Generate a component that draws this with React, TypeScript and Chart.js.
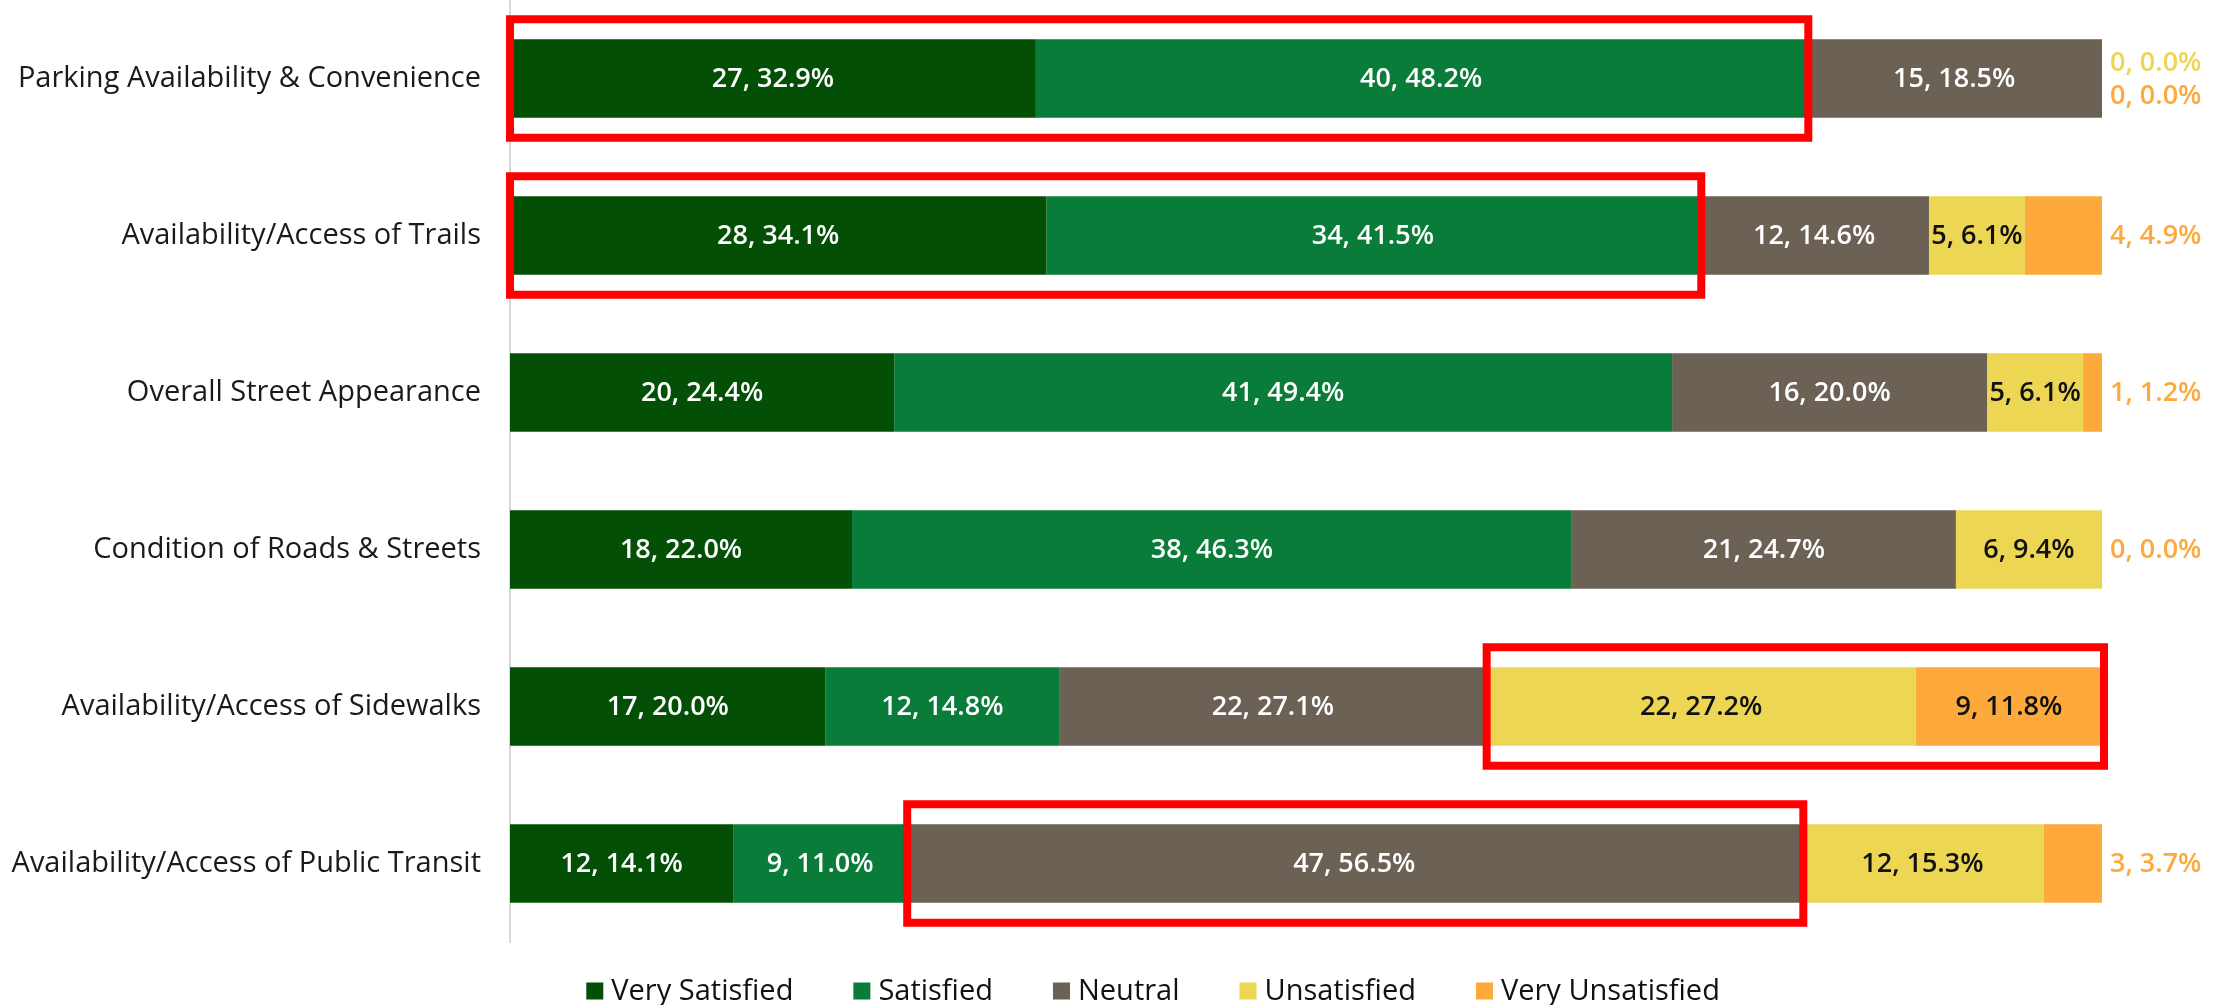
import React, { useEffect, useRef } from "react";
import { Chart, registerables } from "chart.js";

Chart.register(...registerables);

const categories = [
  "Parking Availability & Convenience",
  "Availability/Access of Trails",
  "Overall Street Appearance",
  "Condition of Roads & Streets",
  "Availability/Access of Sidewalks",
  "Availability/Access of Public Transit",
];

const seriesNames = ["Very Satisfied", "Satisfied", "Neutral", "Unsatisfied", "Very Unsatisfied"];
const seriesColors = ["#034f05", "#0a7c39", "#6b6155", "#ecd654", "#fda93b"];
const labelColors = ["#ffffff", "#ffffff", "#ffffff", "#111111", "#111111"];

const verySatisfiedCounts = [27, 28, 20, 18, 17, 12];
const verySatisfiedPct = [32.9, 34.1, 24.4, 22.0, 20.0, 14.1];
const satisfiedCounts = [40, 34, 41, 38, 12, 9];
const satisfiedPct = [48.2, 41.5, 49.4, 46.3, 14.8, 11.0];
const neutralCounts = [15, 12, 16, 21, 22, 47];
const neutralPct = [18.5, 14.6, 20.0, 24.7, 27.1, 56.5];
const unsatisfiedCounts = [0, 5, 5, 6, 22, 12];
const unsatisfiedPct = [0.0, 6.1, 6.1, 9.4, 27.2, 15.3];
const veryUnsatisfiedCounts = [0, 4, 1, 0, 9, 3];
const veryUnsatisfiedPct = [0.0, 4.9, 1.2, 0.0, 11.8, 3.7];

// highlighted (red box) regions: row index, first series, last series
const highlightRows = [0, 1, 4, 5];
const highlightFrom = [0, 0, 3, 2];
const highlightTo = [1, 1, 4, 2];

const countSeries = [verySatisfiedCounts, satisfiedCounts, neutralCounts, unsatisfiedCounts, veryUnsatisfiedCounts];
const pctSeries = [verySatisfiedPct, satisfiedPct, neutralPct, unsatisfiedPct, veryUnsatisfiedPct];

const FONT = "'Open Sans', 'DejaVu Sans', sans-serif";

const labelPlugin = {
  id: "segLabels",
  afterDatasetsDraw(chart: any) {
    const ctx = chart.ctx;
    const area = chart.chartArea;
    ctx.save();
    // red highlight boxes
    ctx.strokeStyle = "#ff0000";
    ctx.lineWidth = 8;
    highlightRows.forEach((row, k) => {
      const a = chart.getDatasetMeta(highlightFrom[k]).data[row].getProps(["x", "y", "base", "height"], true);
      const b = chart.getDatasetMeta(highlightTo[k]).data[row].getProps(["x", "y", "base", "height"], true);
      const x1 = Math.min(a.base, a.x);
      const x2 = Math.max(b.base, b.x) + 2;
      const y1 = a.y - a.height / 2 - 20;
      const y2 = a.y + a.height / 2 + 20;
      ctx.strokeRect(x1, y1, x2 - x1, y2 - y1);
    });
    // data labels
    ctx.font = `600 27px ${FONT}`;
    ctx.textBaseline = "middle";
    categories.forEach((_, i) => {
      const outside: { text: string; color: string }[] = [];
      let yc = 0;
      pctSeries.forEach((ps, d) => {
        const el = chart.getDatasetMeta(d).data[i].getProps(["x", "y", "base"], true);
        yc = el.y;
        const text = `${countSeries[d][i]}, ${ps[i].toFixed(1)}%`;
        if (ps[i] >= 5) {
          ctx.textAlign = "center";
          ctx.fillStyle = labelColors[d];
          ctx.fillText(text, (el.x + el.base) / 2, el.y + 1);
        } else {
          outside.push({ text, color: seriesColors[d] });
        }
      });
      const n = outside.length;
      outside.forEach((o, k) => {
        ctx.textAlign = "left";
        ctx.fillStyle = o.color;
        ctx.fillText(o.text, area.right + 8, yc + 1 + (k - (n - 1) / 2) * 33);
      });
    });
    ctx.restore();
  },
};

const legendPlugin = {
  id: "customLegend",
  afterDraw(chart: any) {
    const ctx = chart.ctx;
    ctx.save();
    ctx.font = `400 29px ${FONT}`;
    ctx.textBaseline = "middle";
    ctx.textAlign = "left";
    const box = 17;
    const gapText = 8;
    const gapItem = 60;
    const widths = seriesNames.map((s) => box + gapText + ctx.measureText(s).width);
    const total = widths.reduce((a, b) => a + b, 0) + gapItem * (seriesNames.length - 1);
    let x = chart.width * 0.515 - total / 2;
    const y = 991;
    seriesNames.forEach((s, i) => {
      ctx.fillStyle = seriesColors[i];
      ctx.fillRect(x, y - box / 2, box, box);
      ctx.fillStyle = "#111111";
      ctx.fillText(s, x + box + gapText, y + 1);
      x += widths[i] + gapItem;
    });
    ctx.restore();
  },
};

export default function App() {
  const ref = useRef<HTMLCanvasElement>(null);
  useEffect(() => {
    document.body.style.margin = "0";
    const rowTotals = categories.map((_, i) => pctSeries.reduce((s, ps) => s + ps[i], 0));
    const datasets = seriesNames.map((name, d) => ({
      label: name,
      data: pctSeries[d].map((v, i) => (v / rowTotals[i]) * 100),
      backgroundColor: seriesColors[d],
      borderWidth: 0,
      barPercentage: 0.5,
      categoryPercentage: 1,
    }));
    const chart = new Chart(ref.current!, {
      type: "bar",
      data: { labels: categories, datasets },
      options: {
        indexAxis: "y",
        animation: false,
        responsive: false,
        devicePixelRatio: 1,
        layout: { padding: { top: 0, right: 137, bottom: 63, left: 0 } },
        plugins: { legend: { display: false }, tooltip: { enabled: false } },
        scales: {
          x: { stacked: true, min: 0, max: 100, display: false },
          y: {
            stacked: true,
            grid: { display: false, drawTicks: false },
            border: { display: true, color: "#d9d9d9", width: 2 },
            ticks: { color: "#1a1a1a", padding: 29, font: { family: FONT, size: 29, weight: 400 } },
            afterFit: (scale: any) => {
              scale.width = 510;
              scale.paddingTop = 0;
              scale.paddingBottom = 0;
            },
          },
        },
      },
      plugins: [labelPlugin, legendPlugin],
    });
    return () => chart.destroy();
  }, []);
  return (
    <div style={{ width: 2239, height: 1005 }}>
      <canvas ref={ref} width={2239} height={1005} style={{ display: "block" }} />
    </div>
  );
}
